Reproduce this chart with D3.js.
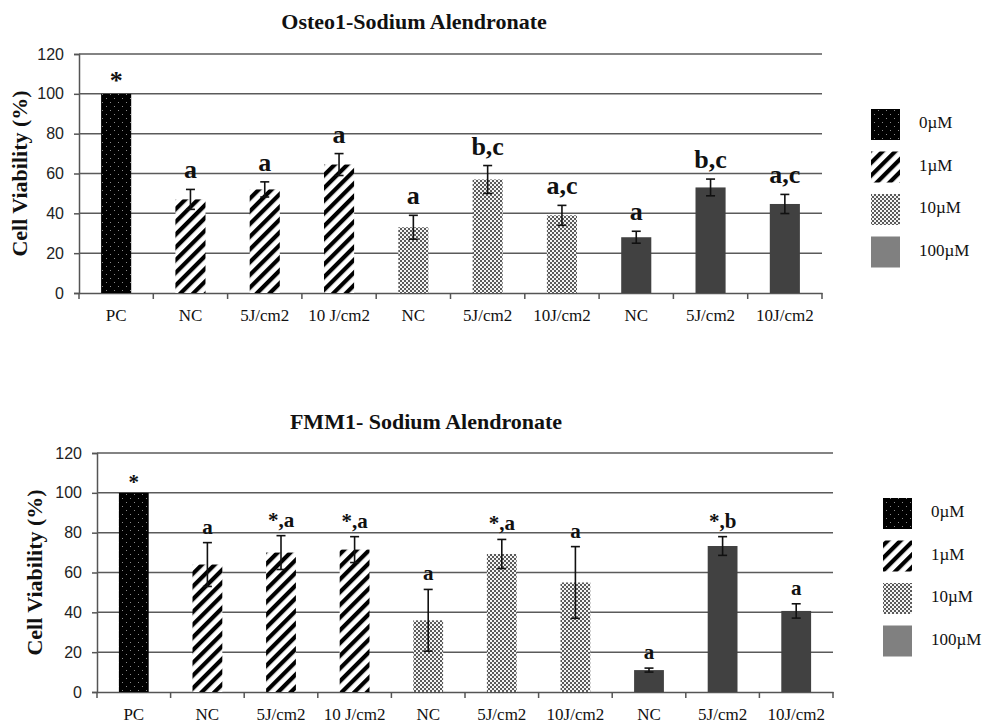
<!DOCTYPE html>
<html>
<head>
<meta charset="utf-8">
<script src="https://cdn.jsdelivr.net/npm/d3@7"></script>
<style>
  body { margin: 0; background: #fff; }
  svg { display: block; }
</style>
</head>
<body>
<svg id="chart" width="985" height="723"></svg>
<script>
// ---------------- data ----------------
const categories = ["PC", "NC", "5J/cm2", "10 J/cm2", "NC", "5J/cm2", "10J/cm2", "NC", "5J/cm2", "10J/cm2"];
const concentration = ["0µM", "1µM", "1µM", "1µM", "10µM", "10µM", "10µM", "100µM", "100µM", "100µM"];
const legendLabels = ["0µM", "1µM", "10µM", "100µM"];
const yTicks = [0, 20, 40, 60, 80, 100, 120];

const osteoTitle = "Osteo1-Sodium Alendronate";
const osteoValues = [100, 47, 52, 64.5, 33, 57, 39, 28, 53, 44.7];
const osteoErrors = [0, 5, 3.8, 5.5, 6, 7, 5, 3, 4.2, 4.8];
const osteoLabels = ["*", "a", "a", "a", "a", "b,c", "a,c", "a", "b,c", "a,c"];

const fmmTitle = "FMM1- Sodium Alendronate";
const fmmValues = [100, 64, 70, 71.5, 36, 69.3, 55, 11, 73.3, 40.7];
const fmmErrors = [0, 11, 8.5, 6.5, 15.5, 7.3, 18, 1, 4.7, 3.6];
const fmmLabels = ["*", "a", "*,a", "*,a", "a", "*,a", "a", "a", "*,b", "a"];

// ---------------- drawing ----------------
const svg = d3.select("#chart");
const SERIF = "'Liberation Serif', 'Times New Roman', serif";
const SANS = "'Liberation Sans', Arial, sans-serif";

const defs = svg.append("defs");
// 0µM : black with small light dots
const pDots = defs.append("pattern").attr("id", "p0").attr("patternUnits", "userSpaceOnUse")
  .attr("width", 8).attr("height", 8);
pDots.append("rect").attr("width", 8).attr("height", 8).attr("fill", "#000");
pDots.append("rect").attr("x", 2).attr("y", 2).attr("width", 1).attr("height", 1).attr("fill", "#8a8a8a");
pDots.append("rect").attr("x", 6).attr("y", 6).attr("width", 1).attr("height", 1).attr("fill", "#8a8a8a");
// 1µM : diagonal stripes
const pStripe = defs.append("pattern").attr("id", "p1").attr("patternUnits", "userSpaceOnUse")
  .attr("width", 9).attr("height", 9).attr("patternTransform", "rotate(45)");
pStripe.append("rect").attr("width", 9).attr("height", 9).attr("fill", "#fff");
pStripe.append("rect").attr("width", 4.2).attr("height", 9).attr("fill", "#000");
// 10µM : fine checker dots
const pCheck = defs.append("pattern").attr("id", "p2").attr("patternUnits", "userSpaceOnUse")
  .attr("width", 4).attr("height", 4);
pCheck.append("rect").attr("width", 4).attr("height", 4).attr("fill", "#f4f4f4");
pCheck.append("rect").attr("x", 0).attr("y", 0).attr("width", 2).attr("height", 2).attr("fill", "#5a5a5a");
pCheck.append("rect").attr("x", 2).attr("y", 2).attr("width", 2).attr("height", 2).attr("fill", "#5a5a5a");

const barFill = { "0µM": "url(#p0)", "1µM": "url(#p1)", "10µM": "url(#p2)", "100µM": "#414141" };
const legendFill = { "0µM": "url(#p0)", "1µM": "url(#p1)", "10µM": "url(#p2)", "100µM": "#808080" };

function drawPanel(cfg) {
  const g = svg.append("g");
  const x = d3.scaleBand().domain(d3.range(categories.length)).range([cfg.left, cfg.right]).padding(0);
  const y = d3.scaleLinear().domain([0, 120]).range([cfg.bottom, cfg.top]);
  const step = x.step();
  const barW = step * 0.405;

  // title
  g.append("text").attr("x", cfg.titleX).attr("y", cfg.titleY)
    .attr("text-anchor", "middle").attr("font-family", SERIF).attr("font-weight", "bold")
    .attr("font-size", 22).attr("fill", "#111").text(cfg.title);

  // gridlines & y axis
  const yAxis = d3.axisLeft(y).tickValues(yTicks).tickSize(5).tickPadding(10);
  const ya = g.append("g").attr("transform", `translate(${cfg.left},0)`).call(yAxis);
  ya.select(".domain").attr("stroke", "#555").attr("stroke-width", 1.5);
  ya.selectAll(".tick line").attr("stroke", "#555").attr("stroke-width", 1.5);
  ya.selectAll(".tick text").attr("font-family", SANS).attr("font-size", 16).attr("fill", "#222");
  g.append("g").selectAll("line").data(yTicks.filter(d => d > 0)).join("line")
    .attr("x1", cfg.left).attr("x2", cfg.right)
    .attr("y1", d => y(d)).attr("y2", d => y(d))
    .attr("stroke", "#5a5a5a").attr("stroke-width", 1.5);

  // y title
  g.append("text")
    .attr("transform", `translate(${cfg.yTitleX},${(cfg.top + cfg.bottom) / 2}) rotate(-90)`)
    .attr("text-anchor", "middle").attr("dominant-baseline", "middle")
    .attr("font-family", SERIF).attr("font-weight", "bold").attr("font-size", 22)
    .attr("fill", "#111").text("Cell Viability (%)");

  // x axis with ticks between bands
  const xa = g.append("g").attr("transform", `translate(0,${cfg.bottom})`)
    .call(d3.axisBottom(x).tickSize(0).tickPadding(16).tickFormat(i => categories[i]));
  xa.select(".domain").attr("stroke", "#555").attr("stroke-width", 1.5);
  xa.selectAll(".tick text").attr("font-family", SERIF).attr("font-size", 17).attr("fill", "#111");
  const bounds = d3.range(categories.length).map(i => x(i)).concat([cfg.right]);
  g.append("g").selectAll("line").data(bounds).join("line")
    .attr("x1", d => d).attr("x2", d => d)
    .attr("y1", cfg.bottom).attr("y2", cfg.bottom + 6)
    .attr("stroke", "#555").attr("stroke-width", 1.5);

  const data = cfg.values.map((v, i) => ({ i, v, e: cfg.errors[i], lab: cfg.labels[i], c: concentration[i] }));

  // bars
  g.append("g").selectAll("rect").data(data).join("rect")
    .attr("x", d => x(d.i) + (step - barW) / 2)
    .attr("y", d => y(d.v))
    .attr("width", barW)
    .attr("height", d => y(0) - y(d.v))
    .attr("fill", d => barFill[d.c]);

  // error bars
  const eb = g.append("g").attr("stroke", "#111").attr("stroke-width", 1.6);
  data.filter(d => d.e > 0).forEach(d => {
    const cx = x(d.i) + step / 2;
    eb.append("line").attr("x1", cx).attr("x2", cx).attr("y1", y(d.v + d.e)).attr("y2", y(d.v - d.e));
    eb.append("line").attr("x1", cx - 4.5).attr("x2", cx + 4.5).attr("y1", y(d.v + d.e)).attr("y2", y(d.v + d.e));
    eb.append("line").attr("x1", cx - 4.5).attr("x2", cx + 4.5).attr("y1", y(d.v - d.e)).attr("y2", y(d.v - d.e));
  });

  // significance letters
  g.append("g").selectAll("text").data(data).join("text")
    .attr("x", d => x(d.i) + step / 2)
    .attr("y", d => y(d.v + d.e) - (d.e > 0 ? cfg.labelGap : cfg.labelGap * 0.4))
    .attr("text-anchor", "middle")
    .attr("font-family", SERIF).attr("font-weight", "bold").attr("font-size", cfg.labelSize)
    .attr("fill", "#111").text(d => d.lab);

  // legend
  const lg = g.append("g");
  legendLabels.forEach((l, k) => {
    const yy = cfg.legendY + k * cfg.legendStep;
    lg.append("rect").attr("x", cfg.legendX).attr("y", yy).attr("width", 29).attr("height", 31)
      .attr("fill", legendFill[l]);
    lg.append("text").attr("x", cfg.legendX + 48).attr("y", yy + 15.5)
      .attr("dominant-baseline", "middle")
      .attr("font-family", SERIF).attr("font-size", 17).attr("fill", "#111").text(l);
  });
}

drawPanel({
  title: osteoTitle, values: osteoValues, errors: osteoErrors, labels: osteoLabels,
  left: 79, right: 822, top: 54, bottom: 293,
  titleX: 414, titleY: 29, yTitleX: 22,
  labelSize: 26, labelGap: 11,
  legendX: 871, legendY: 109, legendStep: 42.5
});

drawPanel({
  title: fmmTitle, values: fmmValues, errors: fmmErrors, labels: fmmLabels,
  left: 97, right: 833, top: 453, bottom: 692,
  titleX: 426, titleY: 429, yTitleX: 37,
  labelSize: 21, labelGap: 9,
  legendX: 883, legendY: 498, legendStep: 42.5
});
</script>
</body>
</html>
